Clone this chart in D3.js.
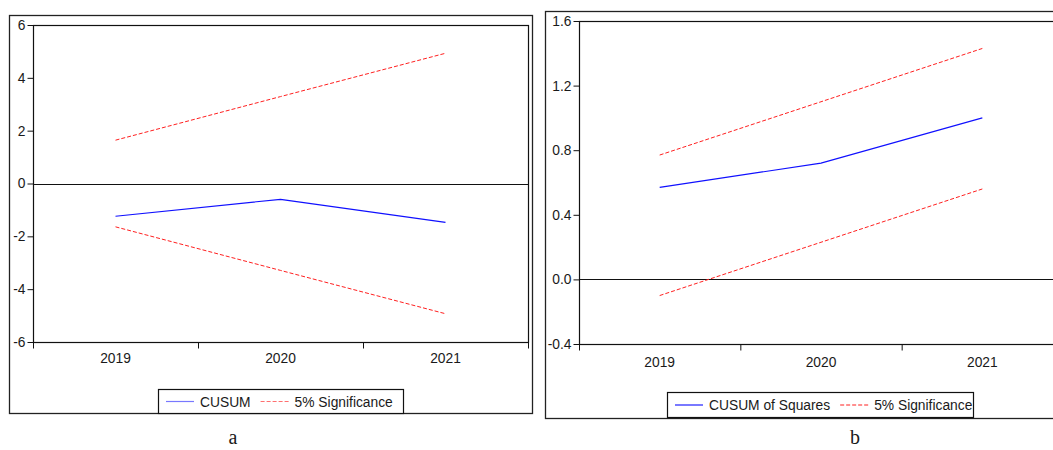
<!DOCTYPE html>
<html>
<head>
<meta charset="utf-8">
<script src="https://cdn.jsdelivr.net/npm/d3@7"></script>
<style>
  body { margin: 0; background: #fff; }
  svg text { font-family: "Liberation Sans", Arial, sans-serif; fill: #1a1a1a; }
  .caption { font-family: "Liberation Serif", "Times New Roman", serif; }
</style>
</head>
<body>
<svg id="chart" width="1053" height="450"></svg>
<script>
// data
let years = ["2019", "2020", "2021"]

// panel a: CUSUM
let cusum = [-1.24, -0.6, -1.47]
let cusumUpper = [1.64, 3.29, 4.93]
let cusumLower = [-1.64, -3.29, -4.93]
let cusumTicks = [-6, -4, -2, 0, 2, 4, 6]

// panel b: CUSUM of squares
let cusumSq = [0.57, 0.72, 1.0]
let cusumSqUpper = [0.77, 1.10, 1.43]
let cusumSqLower = [-0.1, 0.23, 0.56]
let cusumSqTicks = [-0.4, 0.0, 0.4, 0.8, 1.2, 1.6]

let svg = d3.select("#chart")
let fs = 13.8

function panel(opt) {
  let g = svg.append("g")

  // outer frame
  g.append("rect")
    .attr("x", opt.outer[0] + 0.5).attr("y", opt.outer[1] + 0.5)
    .attr("width", opt.outer[2] - opt.outer[0]).attr("height", opt.outer[3] - opt.outer[1])
    .attr("fill", "none").attr("stroke", "#222").attr("stroke-width", 1.3)

  let x = d3.scaleLinear().domain([0, years.length]).range([opt.left, opt.right])
  let y = d3.scaleLinear().domain(opt.yDomain).range([opt.bottom, opt.top])

  // plot frame
  g.append("rect")
    .attr("x", opt.left + 0.5).attr("y", opt.top + 0.5)
    .attr("width", opt.right - opt.left).attr("height", opt.bottom - opt.top)
    .attr("fill", "none").attr("stroke", "#111").attr("stroke-width", 1.2)

  // zero line
  g.append("line")
    .attr("x1", opt.left).attr("x2", opt.right)
    .attr("y1", Math.round(y(0)) + 0.5).attr("y2", Math.round(y(0)) + 0.5)
    .attr("stroke", "#111").attr("stroke-width", 1)

  // y axis
  let yAxis = d3.axisLeft(y).tickValues(opt.yTicks).tickSize(6).tickPadding(2)
    .tickFormat(opt.fmt)
  let ya = g.append("g").attr("transform", `translate(${opt.left + 0.5},0)`).call(yAxis)
  ya.select(".domain").remove()
  ya.selectAll("line").attr("stroke", "#111")
  ya.selectAll("text").attr("font-size", fs)

  // x axis: ticks on year boundaries, labels in the middle
  let xAxis = d3.axisBottom(x).tickValues(d3.range(0, years.length + 1)).tickSize(6).tickFormat("")
  let xa = g.append("g").attr("transform", `translate(0,${opt.bottom + 0.5})`).call(xAxis)
  xa.select(".domain").remove()
  xa.selectAll("line").attr("stroke", "#111")

  g.selectAll(".yr").data(years).enter().append("text")
    .attr("class", "yr")
    .attr("x", (d, i) => x(i + 0.5))
    .attr("y", opt.bottom + opt.labelDy)
    .attr("text-anchor", "middle")
    .attr("font-size", fs)
    .text(d => d)

  let line = d3.line().x((d, i) => x(i + 0.5)).y(d => y(d))

  g.append("path").datum(opt.upper).attr("d", line)
    .attr("fill", "none").attr("stroke", "#ff2020").attr("stroke-width", 1).attr("stroke-dasharray", "4,2")
  g.append("path").datum(opt.lower).attr("d", line)
    .attr("fill", "none").attr("stroke", "#ff2020").attr("stroke-width", 1).attr("stroke-dasharray", "4,2")
  g.append("path").datum(opt.main).attr("d", line)
    .attr("fill", "none").attr("stroke", "#1010ff").attr("stroke-width", 1.1)

  // legend
  let lg = opt.legend
  let lgnd = g.append("g").attr("transform", `translate(${lg.x},${lg.y})`)
  lgnd.append("rect").attr("x", 0.5).attr("y", 0.5).attr("width", lg.w).attr("height", lg.h)
    .attr("fill", "#fff").attr("stroke", "#111").attr("stroke-width", 1.2)
  let cy = lg.h / 2 + 0.5
  lgnd.append("line").attr("x1", 8).attr("x2", 36).attr("y1", cy).attr("y2", cy)
    .attr("stroke", lg.blue).attr("stroke-width", 1.2)
  let t1 = lgnd.append("text").attr("x", 42).attr("y", cy + 5).attr("font-size", fs).text(lg.label)
  let w1 = t1.node().getComputedTextLength()
  let rx = 42 + w1 + 10
  lgnd.append("line").attr("x1", rx).attr("x2", rx + 28).attr("y1", cy).attr("y2", cy)
    .attr("stroke", lg.red).attr("stroke-width", 1.2).attr("stroke-dasharray", "4,2")
  lgnd.append("text").attr("x", rx + 34).attr("y", cy + 5).attr("font-size", fs).text("5% Significance")

  // caption
  svg.append("text").attr("class", "caption")
    .attr("x", opt.caption[0]).attr("y", opt.caption[1])
    .attr("text-anchor", "middle").attr("font-size", 20)
    .text(opt.caption[2])
}

panel({
  outer: [9, 15, 532, 413],
  left: 33, right: 528, top: 25, bottom: 342,
  yDomain: [-6, 6], yTicks: cusumTicks, fmt: d => String(d),
  labelDy: 21,
  main: cusum, upper: cusumUpper, lower: cusumLower,
  legend: { x: 158, y: 389, w: 245, h: 24, label: "CUSUM", blue: "#7878ff", red: "#ff7070" },
  caption: [233, 444, "a"]
})

panel({
  outer: [545, 11, 1070, 418],
  left: 579, right: 1063, top: 21, bottom: 344,
  yDomain: [-0.4, 1.6], yTicks: cusumSqTicks, fmt: d => d.toFixed(1),
  labelDy: 23,
  main: cusumSq, upper: cusumSqUpper, lower: cusumSqLower,
  legend: { x: 667, y: 392, w: 306, h: 25, label: "CUSUM of Squares", blue: "#2020ff", red: "#ff2020" },
  caption: [855, 444, "b"]
})
</script>
</body>
</html>
